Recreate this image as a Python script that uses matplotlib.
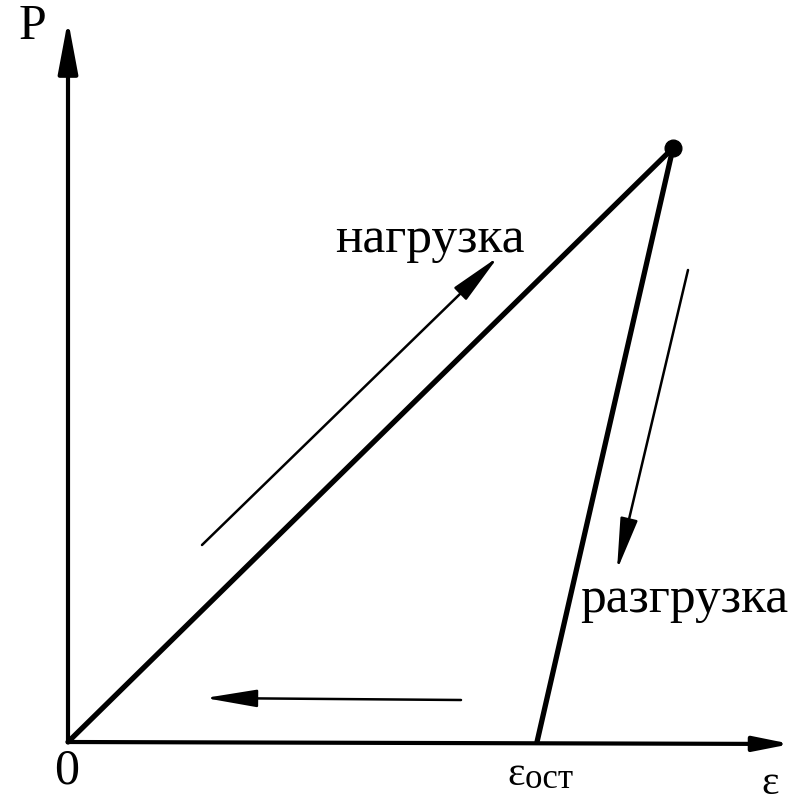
import matplotlib.pyplot as plt
import numpy as np

# Diagram values (arbitrary units, origin at 0)
load_eps = [0.0, 6.05]        # loading line: strain
load_P = [0.0, 5.94]          # loading line: force
unload_eps = [6.05, 4.69]     # unloading line to residual strain
unload_P = [5.94, 0.0]
eps_peak, P_peak = 6.05, 5.94
eps_res = 4.69

# helper arrows (start, end)
arrow_load = [(1.34, 1.97), (4.30, 4.85)]
arrow_unload = [(6.20, 4.72), (5.49, 1.72)]
arrow_back = [(3.93, 0.42), (1.37, 0.44)]

axis_x_end = 7.23
axis_y_end = 7.22

plt.rcParams['font.family'] = ['Liberation Serif', 'DejaVu Serif']

fig = plt.figure(figsize=(7.92, 8.02), dpi=100)
ax = fig.add_axes([0, 0, 1, 1])
ax.set_xlim(-0.68, 7.24)
ax.set_ylim(-0.60, 7.42)
ax.axis('off')

# axes with arrows
ax.annotate('', xy=(0, axis_y_end), xytext=(0, 0), annotation_clip=False,
            arrowprops=dict(arrowstyle='-|>,head_length=1.6,head_width=0.3',
                            mutation_scale=20, lw=3, color='black',
                            shrinkA=0, shrinkB=0))
ax.annotate('', xy=(axis_x_end, -0.02), xytext=(0, 0), annotation_clip=False,
            arrowprops=dict(arrowstyle='-|>,head_length=1.1,head_width=0.22',
                            mutation_scale=20, lw=3, color='black',
                            shrinkA=0, shrinkB=0))

# loading / unloading lines
ax.plot(load_eps, load_P, color='black', lw=3.8, solid_capstyle='round')
ax.plot(unload_eps, unload_P, color='black', lw=3.8, solid_capstyle='round')
ax.plot([eps_peak], [P_peak], 'o', color='black', markersize=12)

# direction arrows
for (x0, y0), (x1, y1) in [arrow_load, arrow_unload, arrow_back]:
    ax.annotate('', xy=(x1, y1), xytext=(x0, y0),
                arrowprops=dict(arrowstyle='-|>,head_length=1.6,head_width=0.27',
                                mutation_scale=20, lw=1.8, color='black',
                                shrinkA=0, shrinkB=0))

# labels
ax.text(-0.36, 7.15, 'P', fontsize=36, ha='center', va='center')
ax.text(-0.01, -0.29, '0', fontsize=36, ha='center', va='center')
ax.text(3.62, 5.02, 'нагрузка', fontsize=37, ha='center', va='center')
ax.text(6.16, 1.42, 'разгрузка', fontsize=37, ha='center', va='center')
ax.text(4.39, -0.33, 'ε', fontsize=30, ha='left', va='center')
ax.text(4.57, -0.38, 'ост', fontsize=25, ha='left', va='center')
ax.text(7.02, -0.42, 'ε', fontsize=30, ha='center', va='center')

fig.savefig('out.png', dpi=100)
